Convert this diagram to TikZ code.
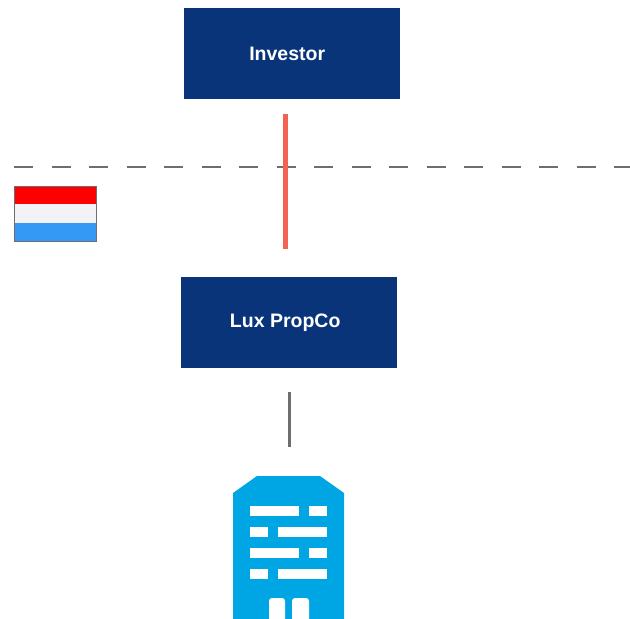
\documentclass[tikz,border=0pt]{standalone}
\usepackage{fontspec}
\setmainfont{Liberation Sans}
\definecolor{navy}{HTML}{09347A}
\definecolor{coral}{HTML}{F26451}
\definecolor{linegray}{HTML}{6E6E6E}
\definecolor{bldg}{HTML}{00A5E3}
\definecolor{flagred}{HTML}{FF0000}
\definecolor{flagwhite}{HTML}{F3F3F7}
\definecolor{flagblue}{HTML}{3399F5}
\tikzset{
  entity/.style={fill=navy,draw=none,text=white,font=\bfseries\fontsize{19.5}{23}\selectfont,minimum width=216pt,minimum height=91pt,inner sep=0pt,anchor=north west},
  win/.style={fill=white,draw=none}
}
\begin{document}
\begin{tikzpicture}[x=1pt,y=-1pt]
\useasboundingbox (0,0) rectangle (630,619);
\node[entity] (inv) at (184,8) {\hspace*{-10pt}Investor};
\node[entity] (lux) at (181,277) {\hspace*{-8pt}Lux PropCo};
\coordinate (dashA) at (14,167);
\coordinate (dashB) at (630,167);
\draw[linegray,line width=2.6pt,dash pattern=on 19pt off 18.5pt] (dashA) -- (dashB);
\coordinate (redA) at (285.5,114);
\coordinate (redB) at (285.5,249);
\draw[coral,line width=5pt] (redA) -- (redB);
\coordinate (grayA) at (289.5,392);
\coordinate (grayB) at (289.5,447);
\draw[linegray,line width=2.4pt] (grayA) -- (grayB);
% flag
\fill[flagred] (14,186) rectangle (96.5,204);
\fill[flagwhite] (14,204) rectangle (96.5,222.5);
\fill[flagblue] (14,222.5) rectangle (96.5,241);
\draw[linegray,line width=0.9pt] (14,186) rectangle (96.5,241);
% building
\fill[bldg] (233,619) -- (233,493) -- (257,476) -- (320,476) -- (344,493) -- (344,619) -- cycle;
\foreach \y in {506,548}{
  \fill[win] (250,\y) rectangle (299,\y+10);
  \fill[win] (309,\y) rectangle (327,\y+10);
}
\foreach \y in {527,569}{
  \fill[win] (250,\y) rectangle (268,\y+10);
  \fill[win] (278,\y) rectangle (327,\y+10);
}
\fill[win,rounded corners=3pt] (269,625) -- (269,598) -- (285,598) -- (285,625) -- cycle;
\fill[win,rounded corners=3pt] (292,625) -- (292,598) -- (309,598) -- (309,625) -- cycle;
\end{tikzpicture}
\end{document}
